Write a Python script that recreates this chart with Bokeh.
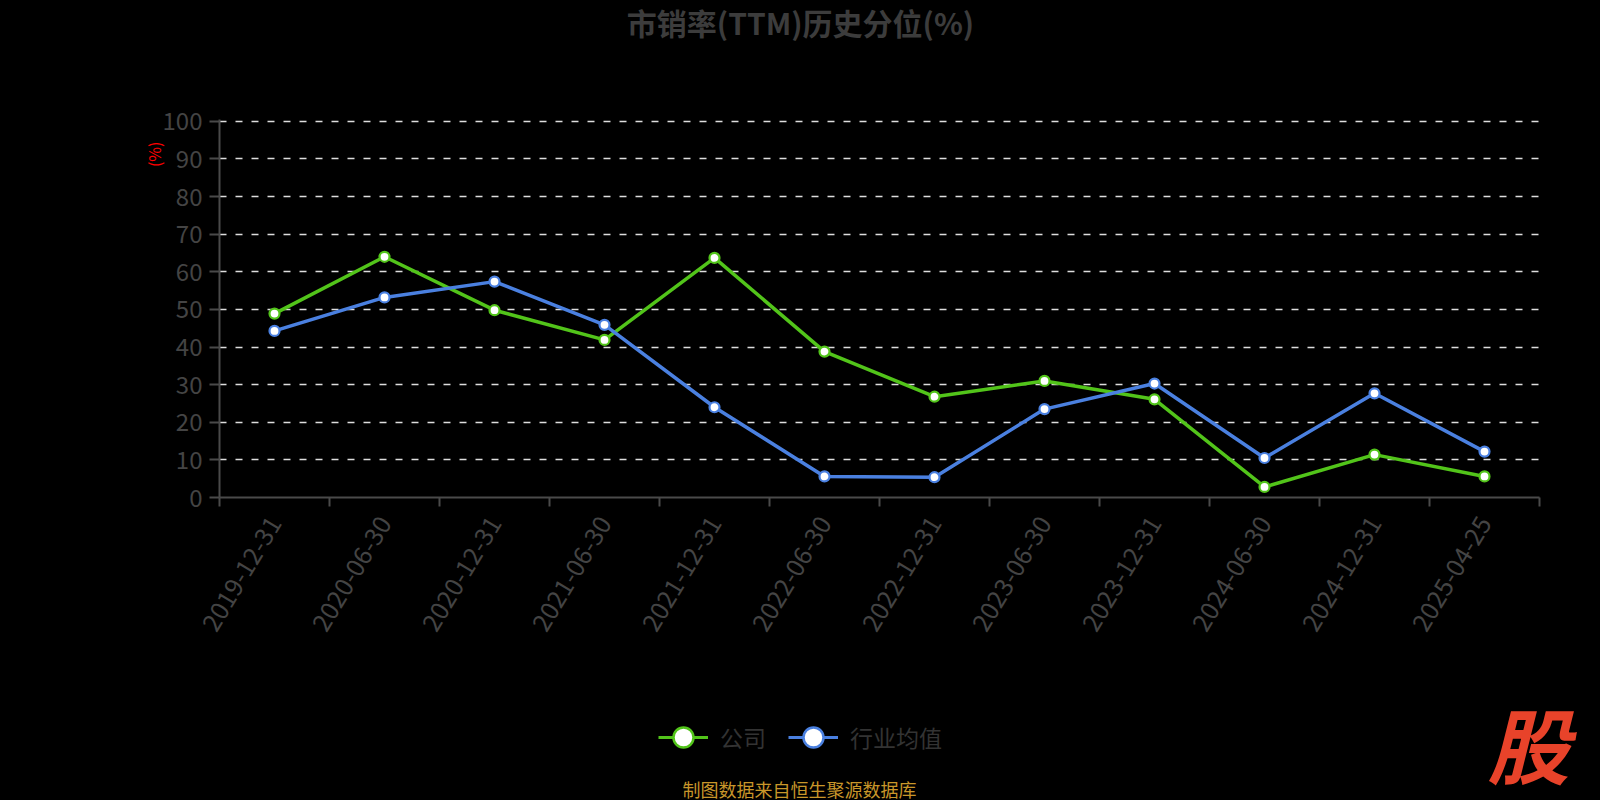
import math
from bokeh.plotting import figure
from bokeh.layouts import column
from bokeh.models import (ColumnDataSource, FixedTicker, Label, Legend, LegendItem,
                          LinearAxis, Range1d, Grid, Title)
from bokeh.embed import file_html
from bokeh.resources import INLINE

dates = ["2019-12-31", "2020-06-30", "2020-12-31", "2021-06-30", "2021-12-31", "2022-06-30",
         "2022-12-31", "2023-06-30", "2023-12-31", "2024-06-30", "2024-12-31", "2025-04-25"]
company = [48.9, 64.0, 49.8, 41.9, 63.7, 38.8, 26.8, 31.0, 26.1, 2.8, 11.4, 5.6]
industry = [44.3, 53.2, 57.4, 45.9, 24.0, 5.6, 5.4, 23.5, 30.3, 10.5, 27.7, 12.2]
y_ticks = [0, 10, 20, 30, 40, 50, 60, 70, 80, 90, 100]

title_text = "市销率(TTM)历史分位(%)"
series_names = ["公司", "行业均值"]
footer_text = "制图数据来自恒生聚源数据库"

GREEN = "#52c41a"
BLUE = "#4a80e0"
AXIS = "#4a4a4a"
TXT = "#444444"
CJK = "Noto Sans CJK SC"
BG = "black"

W = 1600
TOP_H, MAIN_H, BOT_H = 60, 600, 140


def blank(h):
    f = figure(width=W, height=h, output_backend="svg", toolbar_location=None,
               x_range=Range1d(0, W), y_range=Range1d(0, h),
               min_border=0, min_border_left=0, min_border_right=0,
               min_border_top=0, min_border_bottom=0,
               x_axis_type=None, y_axis_type=None, frame_align=False,
               background_fill_color=BG, border_fill_color=BG, outline_line_color=None)
    f.xgrid.visible = False
    f.ygrid.visible = False
    return f


# ---------- top: title ----------
top = blank(TOP_H)
top.add_layout(Label(x=800, y=TOP_H - 21.5, x_units="screen", y_units="screen",
                     text=title_text, text_align="center", text_baseline="middle",
                     text_font=CJK, text_font_size="30px", text_font_style="bold",
                     text_color="#3c3c3c"))

# ---------- main chart ----------
n = len(dates)
xs = [i + 0.5 for i in range(n)]

p = figure(width=W, height=MAIN_H, output_backend="svg", toolbar_location=None,
           x_range=Range1d(0, n), y_range=Range1d(0, 100.5),
           min_border_left=219, min_border_right=61, min_border_top=59, min_border_bottom=163,
           x_axis_type=None, y_axis_type=None, frame_align=False,
           background_fill_color=BG, border_fill_color=BG, outline_line_color=None)

yax = LinearAxis(ticker=FixedTicker(ticks=y_ticks))
yax.axis_line_color = AXIS
yax.axis_line_width = 2
yax.major_tick_line_color = AXIS
yax.major_tick_line_width = 2
yax.major_tick_out = 10
yax.major_tick_in = 0
yax.minor_tick_line_color = None
yax.major_label_text_color = TXT
yax.major_label_text_font = CJK
yax.major_label_text_font_size = "24px"
yax.major_label_standoff = 7
p.add_layout(yax, "left")

p.add_layout(Title(text="(%)", align="right", offset=22, standoff=-12,
                   text_font=CJK, text_font_size="16px", text_font_style="normal",
                   text_color="red"), "left")

xax = LinearAxis(ticker=FixedTicker(ticks=xs, minor_ticks=list(range(n + 1))))
xax.major_label_overrides = {x: d for x, d in zip(xs, dates)}
xax.axis_line_color = AXIS
xax.axis_line_width = 2
xax.major_tick_line_color = None
xax.major_tick_out = 0
xax.major_tick_in = 0
xax.minor_tick_line_color = AXIS
xax.minor_tick_line_width = 2
xax.minor_tick_out = 9
xax.minor_tick_in = 0
xax.major_label_text_color = TXT
xax.major_label_text_font = CJK
xax.major_label_text_font_size = "25px"
xax.major_label_orientation = math.radians(59)
xax.major_label_standoff = 12
p.add_layout(xax, "below")

p.add_layout(Grid(dimension=1, ticker=FixedTicker(ticks=y_ticks[1:]),
                  grid_line_color="#dddddd", grid_line_width=1.5, grid_line_dash="7 9"))

src = ColumnDataSource(dict(x=xs, company=company, industry=industry))
p.line("x", "company", source=src, line_color=GREEN, line_width=3.5)
p.scatter("x", "company", source=src, size=10, fill_color="white", line_color=GREEN, line_width=2.2)
p.line("x", "industry", source=src, line_color=BLUE, line_width=3.5)
p.scatter("x", "industry", source=src, size=10, fill_color="white", line_color=BLUE, line_width=2.2)

# ---------- bottom: legend, footer, logo ----------
bot = blank(BOT_H)
nan = float("nan")
dummy_g = ColumnDataSource(dict(x=[nan], y=[nan]))
dummy_b = ColumnDataSource(dict(x=[nan], y=[nan]))
lg1 = bot.line("x", "y", source=dummy_g, line_color=GREEN, line_width=3)
lg2 = bot.scatter("x", "y", source=dummy_g, size=23, fill_color="white", line_color=GREEN, line_width=2.5)
lb1 = bot.line("x", "y", source=dummy_b, line_color=BLUE, line_width=3)
lb2 = bot.scatter("x", "y", source=dummy_b, size=23, fill_color="white", line_color=BLUE, line_width=2.5)

legend = Legend(items=[LegendItem(label=series_names[0], renderers=[lg1, lg2]),
                       LegendItem(label=series_names[1], renderers=[lb1, lb2])],
                orientation="horizontal", location=(658, 38),
                glyph_width=50, glyph_height=50, label_standoff=12, spacing=22,
                padding=0, margin=0, border_line_color=None, background_fill_alpha=0,
                label_text_font=CJK, label_text_font_size="23px", label_text_color="#333333")
bot.add_layout(legend, "center")

bot.add_layout(Label(x=799, y=BOT_H - 128, x_units="screen", y_units="screen",
                     text=footer_text, text_align="center", text_baseline="middle",
                     text_font=CJK, text_font_size="18px", text_color="#c8962a"))
bot.add_layout(Label(x=1528, y=BOT_H - 82, x_units="screen", y_units="screen",
                     text="股", text_align="center", text_baseline="middle",
                     text_font=CJK, text_font_size="82px", text_font_style="bold italic",
                     text_color="#e8432a"))

layout = column(top, p, bot, spacing=0, styles={"background-color": BG})
html = file_html(layout, INLINE)
html = html.replace("<body>", "<body style=\"background:black\">")
open("out.html", "w").write(html)
